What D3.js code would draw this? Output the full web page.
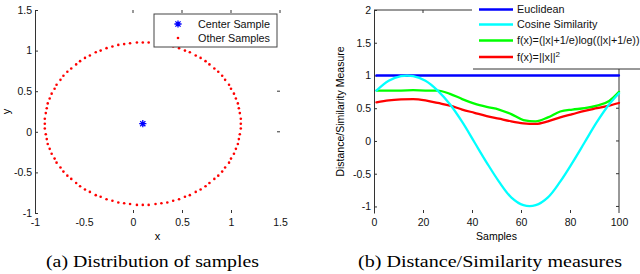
<!DOCTYPE html>
<html>
<head>
<meta charset="utf-8">
<script src="https://cdn.jsdelivr.net/npm/d3@7/dist/d3.min.js"></script>
<style>
html,body{margin:0;padding:0;background:#fff;}
svg{display:block;}
text{font-family:"Liberation Sans",Arial,sans-serif;}
text.caption{font-family:"Liberation Serif","Times New Roman",serif;}
</style>
</head>
<body>
<svg id="chart" width="640" height="274"></svg>
<script>
// ---------- (a) Distribution of samples ----------
const centerX = [0.1];
const centerY = [0.1];
const otherX = [1.10,1.10,1.09,1.08,1.07,1.05,1.03,1.00,0.98,0.94,0.91,0.87,0.83,0.78,0.74,0.69,0.64,0.58,0.53,0.47,0.41,0.35,0.29,0.23,0.16,0.10,
  0.04,-0.03,-0.09,-0.15,-0.21,-0.27,-0.33,-0.38,-0.44,-0.49,-0.54,-0.58,-0.63,-0.67,-0.71,-0.74,-0.78,-0.80,-0.83,-0.85,-0.87,-0.88,-0.89,-0.90,-0.90,
  -0.90,-0.89,-0.88,-0.87,-0.85,-0.83,-0.80,-0.78,-0.74,-0.71,-0.67,-0.63,-0.58,-0.54,-0.49,-0.44,-0.38,-0.33,-0.27,-0.21,-0.15,-0.09,-0.03,0.04,0.10,
  0.16,0.23,0.29,0.35,0.41,0.47,0.53,0.58,0.64,0.69,0.74,0.78,0.83,0.87,0.91,0.94,0.98,1.00,1.03,1.05,1.07,1.08,1.09,1.10];
const otherY = [0.10,0.16,0.23,0.29,0.35,0.41,0.47,0.53,0.58,0.64,0.69,0.74,0.78,0.83,0.87,0.91,0.94,0.98,1.00,1.03,1.05,1.07,1.08,1.09,1.10,1.10,
  1.10,1.09,1.08,1.07,1.05,1.03,1.00,0.98,0.94,0.91,0.87,0.83,0.78,0.74,0.69,0.64,0.58,0.53,0.47,0.41,0.35,0.29,0.23,0.16,0.10,
  0.04,-0.03,-0.09,-0.15,-0.21,-0.27,-0.33,-0.38,-0.44,-0.49,-0.54,-0.58,-0.63,-0.67,-0.71,-0.74,-0.78,-0.80,-0.83,-0.85,-0.87,-0.88,-0.89,-0.90,-0.90,
  -0.90,-0.89,-0.88,-0.87,-0.85,-0.83,-0.80,-0.78,-0.74,-0.71,-0.67,-0.63,-0.58,-0.54,-0.49,-0.44,-0.38,-0.33,-0.27,-0.21,-0.15,-0.09,-0.03,0.04];
const leftXTicks = [-1,-0.5,0,0.5,1,1.5];
const leftYTicks = [-1,-0.5,0,0.5,1,1.5];
const leftLegend = ["Center Sample","Other Samples"];

// ---------- (b) Distance/Similarity measures ----------
const samples   = [1,6,11,16,21,26,31,36,41,46,51,56,61,66,71,76,81,86,91,96,100];
const euclidean = [1,1,1,1,1,1,1,1,1,1,1,1,1,1,1,1,1,1,1,1,1];
const cosineSim = [0.77,0.92,0.99,0.99,0.92,0.77,0.56,0.29,-0.02,-0.33,-0.62,-0.86,-0.98,-0.98,-0.86,-0.62,-0.33,-0.02,0.29,0.56,0.73];
const logMeasure= [0.77,0.77,0.77,0.775,0.77,0.77,0.72,0.64,0.57,0.52,0.48,0.41,0.32,0.30,0.36,0.45,0.48,0.50,0.54,0.61,0.75];
const sqMeasure = [0.59,0.62,0.635,0.64,0.62,0.58,0.54,0.48,0.43,0.38,0.34,0.30,0.27,0.26,0.30,0.36,0.41,0.46,0.50,0.54,0.58];
const rightXTicks = [0,20,40,60,80,100];
const rightYTicks = [-1,-0.5,0,0.5,1,1.5,2];
const seriesNames = ["Euclidean","Cosine Similarity","f(x)=(|x|+1/e)log((|x|+1/e))","f(x)=||x||"];
const seriesColors = ["#0000ff","#00ffff","#00ff00","#ff0000"];

const svg = d3.select("#chart");
const axisColor = "#333";
const fmt = d => String(d);

// ===== Left panel =====
const xL = d3.scaleLinear([-1,1.5],[35,280]);
const yL = d3.scaleLinear([-1,1.5],[213,10]);
const gL = svg.append("g");

const axL = gL.append("g").attr("transform",`translate(${xL(-1)},0)`)
  .call(d3.axisLeft(yL).tickValues(leftYTicks).tickFormat(fmt).tickSizeInner(-3).tickSizeOuter(0).tickPadding(3));
axL.select(".domain").attr("stroke",axisColor);
axL.selectAll("line").attr("stroke",axisColor);
axL.selectAll("text").attr("font-size","10.5px").attr("fill","#111");

const axLB = gL.append("g").attr("transform",`translate(0,${yL(-1)})`)
  .call(d3.axisBottom(xL).tickValues(leftXTicks).tickFormat(fmt).tickSizeInner(-3).tickSizeOuter(0).tickPadding(6));
axLB.select(".domain").remove();
axLB.selectAll(".tick line").attr("stroke",axisColor).attr("opacity",d => (d>=0 && d<=1) ? 1 : 0);
axLB.selectAll("text").attr("font-size","10.5px").attr("fill","#111");

// top ticks & right ticks (faint, as in the reference)
gL.selectAll(".ttick").data([0,0.5,1,1.5]).enter().append("line")
  .attr("x1",d=>xL(d)).attr("x2",d=>xL(d)).attr("y1",yL(1.5)).attr("y2",yL(1.5)+3)
  .attr("stroke",axisColor);
gL.selectAll(".rtick").data([0,0.5]).enter().append("line")
  .attr("x1",xL(1.5)).attr("x2",xL(1.5)-3).attr("y1",d=>yL(d)).attr("y2",d=>yL(d))
  .attr("stroke",axisColor);

gL.append("text").attr("x",(xL(-1)+xL(1.5))/2).attr("y",240).attr("text-anchor","middle")
  .attr("font-size","11px").text("x");
gL.append("text").attr("transform",`translate(10,${yL(0.25)}) rotate(-90)`).attr("text-anchor","middle")
  .attr("font-size","11px").text("y");

// other samples
gL.selectAll(".dot").data(otherX.map((x,i)=>[x,otherY[i]])).enter().append("circle")
  .attr("cx",d=>xL(d[0])).attr("cy",d=>yL(d[1])).attr("r",1.3).attr("fill","#ff0000");

function asterisk(cx,cy,r){
  const d=r*0.72;
  return `M${cx-r},${cy}L${cx+r},${cy}M${cx},${cy-r}L${cx},${cy+r}M${cx-d},${cy-d}L${cx+d},${cy+d}M${cx-d},${cy+d}L${cx+d},${cy-d}`;
}
gL.selectAll(".ctr").data(centerX.map((x,i)=>[x,centerY[i]])).enter().append("path")
  .attr("d",d=>asterisk(xL(d[0]),yL(d[1]),3.6)).attr("stroke","#0000ff").attr("stroke-width",1.3).attr("fill","none");

// legend (a)
const lgA = gL.append("g");
lgA.append("rect").attr("x",154).attr("y",14).attr("width",123).attr("height",33)
  .attr("fill","#fff").attr("stroke","#444").attr("stroke-width",1);
lgA.append("path").attr("d",asterisk(178,24,3.6)).attr("stroke","#0000ff").attr("stroke-width",1.3).attr("fill","none");
lgA.append("circle").attr("cx",178).attr("cy",38).attr("r",1.3).attr("fill","#ff0000");
lgA.selectAll(".lt").data(leftLegend).enter().append("text")
  .attr("x",198).attr("y",(d,i)=>24+i*14).attr("dy","0.36em")
  .attr("font-size","10.8px").attr("fill","#111").text(d=>d);

// caption (a)
svg.append("text").attr("class","caption").attr("x",152.5).attr("y",267).attr("text-anchor","middle")
  .attr("font-size","16px")
  .attr("textLength",213).attr("lengthAdjust","spacingAndGlyphs")
  .text("(a) Distribution of samples");

// ===== Right panel =====
const xR = d3.scaleLinear([0,100],[374,619]);
const yR = d3.scaleLinear([-1.1,2],[213,10]);
const gR = svg.append("g");

const axR = gR.append("g").attr("transform",`translate(${xR(0)},0)`)
  .call(d3.axisLeft(yR).tickValues(rightYTicks).tickFormat(fmt).tickSizeInner(-3).tickSizeOuter(0).tickPadding(3));
axR.select(".domain").attr("stroke",axisColor);
axR.selectAll("line").attr("stroke",axisColor);
axR.selectAll("text").attr("font-size","10.5px").attr("fill","#111");

const axRB = gR.append("g").attr("transform",`translate(0,${yR(-1.1)})`)
  .call(d3.axisBottom(xR).tickValues(rightXTicks).tickFormat(fmt).tickSizeInner(-3).tickSizeOuter(0).tickPadding(6));
axRB.select(".domain").remove();
axRB.selectAll(".tick line").attr("stroke",axisColor).attr("opacity",d => (d>0 && d<100) ? 1 : 0);
axRB.selectAll("text").attr("font-size","10.5px").attr("fill","#111");

// top line (partial), top tick, right axis line with ticks
gR.append("line").attr("x1",xR(0)).attr("x2",472).attr("y1",yR(2)).attr("y2",yR(2)).attr("stroke",axisColor);
gR.append("line").attr("x1",xR(20)).attr("x2",xR(20)).attr("y1",yR(2)).attr("y2",yR(2)+3).attr("stroke",axisColor);
gR.append("line").attr("x1",xR(100)).attr("x2",xR(100)).attr("y1",69).attr("y2",yR(-1.1)).attr("stroke",axisColor);
gR.selectAll(".rrt").data([-1,-0.5,0,0.5,1]).enter().append("line")
  .attr("x1",xR(100)).attr("x2",xR(100)-3).attr("y1",d=>yR(d)).attr("y2",d=>yR(d)).attr("stroke",axisColor);

gR.append("text").attr("x",(xR(0)+xR(100))/2).attr("y",240).attr("text-anchor","middle")
  .attr("font-size","10.5px").text("Samples");
gR.append("text").attr("transform",`translate(344,${(yR(2)+yR(-1.1))/2}) rotate(-90)`).attr("text-anchor","middle")
  .attr("font-size","10.5px").text("Distance/Similarity Measure");

const seriesData = [euclidean, cosineSim, logMeasure, sqMeasure];
const curves = [d3.curveLinear, d3.curveCatmullRom, d3.curveMonotoneX, d3.curveMonotoneX];
const drawOrder = [0,2,3,1];
drawOrder.forEach(k=>{
  const line = d3.line().x((d,i)=>xR(samples[i])).y(d=>yR(d)).curve(curves[k]);
  gR.append("path").datum(seriesData[k]).attr("d",line)
    .attr("fill","none").attr("stroke",seriesColors[k]).attr("stroke-width",2.3)
    .attr("stroke-linejoin","round").attr("stroke-linecap","round");
});

// legend (b)
const lgB = gR.append("g");
lgB.append("rect").attr("x",473).attr("y",-2).attr("width",170).attr("height",71).attr("fill","#fff");
lgB.append("line").attr("x1",473).attr("x2",640).attr("y1",69).attr("y2",69).attr("stroke",axisColor);
const rowsY = [9.5,24.5,40.5,57];
seriesNames.forEach((name,i)=>{
  lgB.append("line").attr("x1",479).attr("x2",513).attr("y1",rowsY[i]).attr("y2",rowsY[i])
    .attr("stroke",seriesColors[i]).attr("stroke-width",2.3);
  const t = lgB.append("text").attr("x",517).attr("y",rowsY[i]).attr("dy","0.36em")
    .attr("font-size","10.8px").attr("fill","#111").text(name);
  if(i===3){
    t.append("tspan").attr("dy","-0.5em").attr("font-size","8px").text("2");
  }
});

// caption (b)
svg.append("text").attr("class","caption").attr("x",490).attr("y",267).attr("text-anchor","middle")
  .attr("font-size","16px")
  .attr("textLength",264).attr("lengthAdjust","spacingAndGlyphs")
  .text("(b) Distance/Similarity measures");
</script>
</body>
</html>
